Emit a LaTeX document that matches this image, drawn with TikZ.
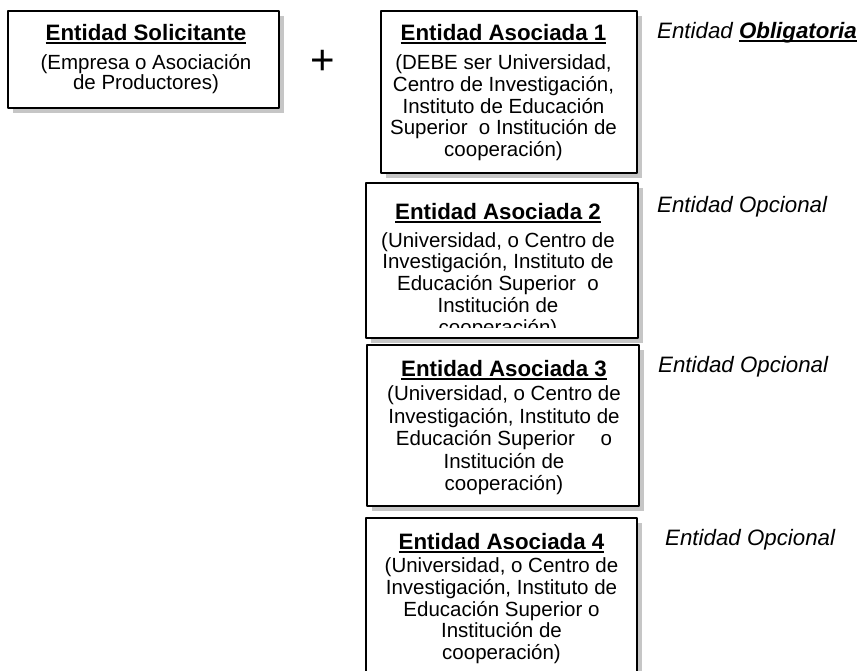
\documentclass[tikz,border=0pt]{standalone}
\usepackage{fontspec}
\setmainfont{Liberation Sans}
\usetikzlibrary{shadows}
\newcommand\subrayado[1]{\setbox0\hbox{#1}\rlap{\rule[-3.5pt]{\wd0}{2pt}}\box0}
\newcommand\titulo[1]{{\fontsize{22.3}{22}\selectfont\subrayado{\textbf{#1}}}}
\begin{document}
\begin{tikzpicture}[x=1pt, y=-1pt, line join=round,
	caja/.style={draw, line width=1.6pt, fill=white, inner sep=0pt, drop shadow={shadow xshift=5pt, shadow yshift=-5pt, fill=gray!45, opacity=1}},
	texto/.style={anchor=north, align=center, inner sep=0pt, font=\fontsize{20.5}{21.7}\selectfont},
	nota/.style={anchor=west, inner sep=0pt, font=\fontsize{22.3}{22}\selectfont\itshape}]
	\useasboundingbox (0,0) rectangle (859,670);
	\clip (0,0) rectangle (859,670);
	\node[caja, minimum width=271pt, minimum height=97pt] (solicitante) at (143.5,59.5) {};
	\node[caja, minimum width=256pt, minimum height=162pt] (asociada1) at (509,92) {};
	\node[caja, minimum width=272pt, minimum height=155pt] (asociada2) at (502,260.5) {};
	\node[caja, minimum width=272pt, minimum height=161pt] (asociada3) at (503,425.5) {};
	\node[caja, minimum width=271pt, minimum height=170pt] (asociada4) at (501.5,603) {};
	\node[texto, font=\fontsize{20.5}{20}\selectfont, xshift=2.5pt, yshift=-14pt] (tsolicitante) at (solicitante.north) {\titulo{Entidad Solicitante}\\[9pt](Empresa o Asociación\\de Productores)};
	\node[texto, xshift=-5.5pt, yshift=-14pt] (tasociada1) at (asociada1.north) {\titulo{Entidad Asociada 1}\\[7.5pt](DEBE ser Universidad,\\Centro de Investigación,\\Instituto de Educación\\Superior\ \ o Institución de\\cooperación)};
	\begin{scope}
		\clip (asociada2.north west) rectangle ([yshift=11pt]asociada2.south east);
		\node[texto, xshift=-4pt, yshift=-21pt] (tasociada2) at (asociada2.north) {\titulo{Entidad Asociada 2}\\[6pt](Universidad, o Centro de\\Investigación, Instituto de\\Educación Superior\ \ o\\Institución de\\cooperación)};
	\end{scope}
	\node[texto, font=\fontsize{20.5}{22.5}\selectfont, xshift=1pt, yshift=-16pt] (tasociada3) at (asociada3.north) {\titulo{Entidad Asociada 3}\\[1.5pt](Universidad, o Centro de\\Investigación, Instituto de\\Educación Superior\hspace{20pt} o\\Institución de\\cooperación)};
	\begin{scope}
		\clip (asociada4.north west) rectangle (asociada4.east |- 0,664);
		\node[texto, yshift=-16pt] (tasociada4) at (asociada4.north) {\titulo{Entidad Asociada 4}\\[1.5pt](Universidad, o Centro de\\Investigación, Instituto de\\Educación Superior o\\Institución de\\cooperación)};
	\end{scope}
	\node (mas) at (323,62) {\fontsize{42}{42}\selectfont +};
	\node[nota] (obligatoria) at (657,33) {Entidad \subrayado{\textbf{Obligatoria}}};
	\node[nota] (opcional2) at (657,207) {Entidad Opcional};
	\node[nota] (opcional3) at (658,367) {Entidad Opcional};
	\node[nota] (opcional4) at (665,540) {Entidad Opcional};
\end{tikzpicture}
\end{document}
